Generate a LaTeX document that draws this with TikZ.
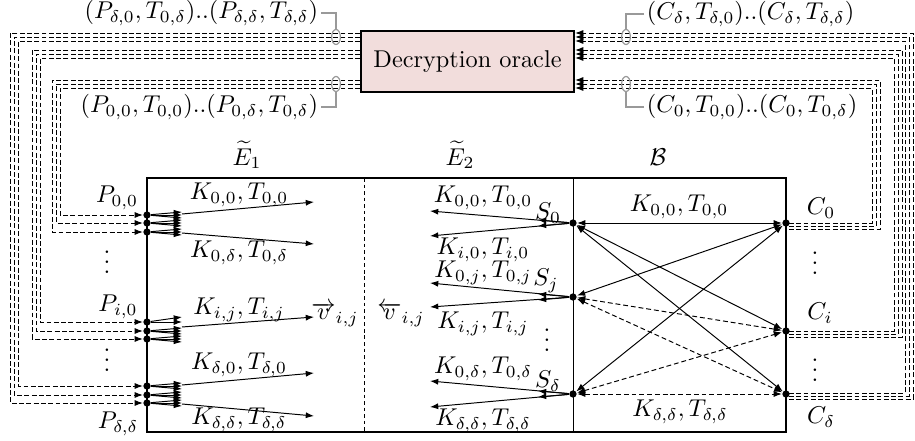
\documentclass[tikz,border=0pt]{standalone}
\usetikzlibrary{arrows.meta,shapes.geometric,calc}
\definecolor{oraclefill}{RGB}{242,221,220}
\newcommand{\tightvdots}{\vbox{\baselineskip4pt\lineskiplimit0pt\hbox{.}\hbox{.}\hbox{.}}}
\begin{document}
\begin{tikzpicture}[x=0.4115pt,y=-0.4115pt,
  >={Latex[length=3.4pt,width=2.5pt]},
  dot/.style={circle,fill,inner sep=0pt,minimum size=3pt},
  bundle/.style={dash pattern=on 2pt off 1pt,line width=0.4pt},
  cross/.style={dash pattern=on 2pt off 1.2pt},
  lbl/.style={inner sep=1pt},
  vd/.style={inner sep=0pt},
  tag/.style={black!40,line width=0.5pt},
  ring/.style={ellipse,draw=black!40,line width=0.5pt,inner sep=0pt,minimum width=3.6pt,minimum height=6.2pt},
  heavy/.style={line width=0.9pt}]
\useasboundingbox (0,0) rectangle (915,441);

% oracle
\node[draw,heavy,fill=oraclefill,minimum width=87.6pt,minimum height=25.1pt,inner sep=0pt]
  (oracle) at (467.5,61.5) {Decryption oracle};

% main frame and its three parts
\draw[heavy] (147,178) rectangle (786,432);
\draw[dash pattern=on 1.5pt off 1.2pt] (364,178) -- (364,432);
\draw (573,178) -- (573,432);
\node at (247,155) {$\widetilde{E}_1$};
\node at (460,155) {$\widetilde{E}_2$};
\node at (658,157) {$\mathcal{B}$};

% plaintext points
\node[dot] (pa1) at (147,215) {};
\node[dot] (pa2) at (147,223) {};
\node[dot] (pa3) at (147,232) {};
\node[dot] (pb1) at (147,322) {};
\node[dot] (pb2) at (147,331) {};
\node[dot] (pb3) at (147,339) {};
\node[dot] (pc1) at (147,386) {};
\node[dot] (pc2) at (147,395) {};
\node[dot] (pc3) at (147,403) {};
\node at (117,198) {$P_{0,0}$};
\node[vd] (pv1) at (107,262) {\tightvdots};
\node at (118,307) {$P_{i,0}$};
\node[vd] (pv2) at (107,360) {\tightvdots};
\node at (118,424) {$P_{\delta,\delta}$};

% middle points
\node[dot] (S0) at (573,223) {};
\node[dot] (Sj) at (573,297) {};
\node[dot] (Sd) at (573,394) {};
\node at (548,213) {$S_0$};
\node at (546,281) {$S_j$};
\node[vd] (sv) at (547,340) {\tightvdots};
\node at (548,381) {$S_\delta$};

% ciphertext points
\node[dot] (C0) at (786,223) {};
\node[dot] (Ci) at (786,331) {};
\node[dot] (Cd) at (786,394) {};
\node at (821,208) {$C_0$};
\node[vd] (cv1) at (815,263) {\tightvdots};
\node at (820,313) {$C_i$};
\node[vd] (cv2) at (815,370) {\tightvdots};
\node at (821,417) {$C_\delta$};

% forward fans in E1
\foreach \n in {pa1,pa2,pa3,pb2,pb3,pc1,pc2,pc3}
  \foreach \o in {-3,0,3}
    \draw[->] (\n) -- ($(\n)+(35,\o)$);
\foreach \o in {-5,0}
  \draw[->] (pb1) -- ($(pb1)+(35,\o)$);

\draw[->] (182,214) -- (314,202);
\draw[->] (182,233) -- (314,244);
\draw[->] (182,327) -- (314,317);
\draw[->] (182,385) -- (314,373);
\draw[->] (182,404) -- (314,416);
\node at (239,195) {$K_{0,0},T_{0,0}$};
\node at (239,253) {$K_{0,\delta},T_{0,\delta}$};
\node at (239,310) {$K_{i,j},T_{i,j}$};
\node at (239,365) {$K_{\delta,0},T_{\delta,0}$};
\node at (239,420) {$K_{\delta,\delta},T_{\delta,\delta}$};
\node at (335,315) {$\overrightarrow{v}_{i,j}$};
\node at (401,315) {$\overleftarrow{v}_{i,j}$};

% backward fans in E2
\foreach \n in {S0,Sj,Sd}
  \foreach \o in {-3,3}
    \draw[->] (\n) -- ($(\n)+(-35,\o)$);
\draw[->] (S0) -- (430,211);
\draw[->] (S0) -- (430,236);
\draw[->] (Sj) -- (430,283);
\draw[->] (Sj) -- (430,307);
\draw[->] (Sd) -- (430,381);
\draw[->] (Sd) -- (430,407);
\node at (483,198) {$K_{0,0},T_{0,0}$};
\node at (483,250) {$K_{i,0},T_{i,0}$};
\node at (483,273) {$K_{0,j},T_{0,j}$};
\node at (483,324) {$K_{i,j},T_{i,j}$};
\node at (483,369) {$K_{0,\delta},T_{0,\delta}$};
\node at (483,421) {$K_{\delta,\delta},T_{\delta,\delta}$};

% links in B
\draw[<->] (S0) -- (C0);
\draw[<->] (S0) -- (Ci);
\draw[<->] (S0) -- (Cd);
\draw[<->] (Sj) -- (C0);
\draw[<->] (Sd) -- (C0);
\draw[<->,cross] (Sj) -- (Ci);
\draw[<->,cross] (Sj) -- (Cd);
\draw[<->,cross] (Sd) -- (Ci);
\draw[<->,cross] (Sd) -- (Cd);
\node at (679,207) {$K_{0,0},T_{0,0}$};
\node at (680,412) {$K_{\delta,\delta},T_{\delta,\delta}$};

% oracle answers towards the plaintext points
\draw[bundle,->] (oracle.west |- 0,33) -| (10,403) -- (pc3);
\draw[bundle,->] (oracle.west |- 0,37) -| (14,395) -- (pc2);
\draw[bundle,->] (oracle.west |- 0,41) -| (18,386) -- (pc1);
\draw[bundle,->] (oracle.west |- 0,50) -| (32,339) -- (pb3);
\draw[bundle,->] (oracle.west |- 0,54) -| (36,331) -- (pb2);
\draw[bundle,->] (oracle.west |- 0,58) -| (40,322) -- (pb1);
\draw[bundle,->] (oracle.west |- 0,80) -| (52,232) -- (pa3);
\draw[bundle,->] (oracle.west |- 0,84) -| (56,223) -- (pa2);
\draw[bundle,->] (oracle.west |- 0,88) -| (60,215) -- (pa1);

% ciphertext queries towards the oracle
\draw[bundle,->] ($(Cd)+(3,5)$) -| (913,33) -- (oracle.east |- 0,33);
\draw[bundle,->] ($(Cd)+(3,2)$) -| (909,37) -- (oracle.east |- 0,37);
\draw[bundle,->] ($(Cd)+(3,-1)$) -| (905,41) -- (oracle.east |- 0,41);
\draw[bundle,->] ($(Ci)+(3,6)$) -| (902,50) -- (oracle.east |- 0,50);
\draw[bundle,->] ($(Ci)+(3,3)$) -| (898,54) -- (oracle.east |- 0,54);
\draw[bundle,->] ($(Ci)+(3,0)$) -| (894,58) -- (oracle.east |- 0,58);
\draw[bundle,->] ($(C0)+(3,6)$) -| (880,80) -- (oracle.east |- 0,80);
\draw[bundle,->] ($(C0)+(3,3)$) -| (876,84) -- (oracle.east |- 0,84);
\draw[bundle,->] ($(C0)+(3,0)$) -| (872,88) -- (oracle.east |- 0,88);

% bundle tags
\node[ring] (el1) at (336,37) {};
\node[ring] (el2) at (336,84) {};
\node[ring] (er1) at (626,37) {};
\node[ring] (er2) at (626,84) {};
\node[lbl,anchor=east] (tl) at (321,13) {$(P_{\delta,0},T_{0,\delta})..(P_{\delta,\delta},T_{\delta,\delta})$};
\node[lbl,anchor=east] (bl) at (321,107) {$(P_{0,0},T_{0,0})..(P_{0,\delta},T_{0,\delta})$};
\node[lbl,anchor=west] (tr) at (644,14) {$(C_\delta,T_{\delta,0})..(C_\delta,T_{\delta,\delta})$};
\node[lbl,anchor=west] (br) at (644,107) {$(C_0,T_{0,0})..(C_0,T_{0,\delta})$};
\draw[tag] (tl.east) -| (el1.north);
\draw[tag] (bl.east) -| (el2.south);
\draw[tag] (tr.west) -| (er1.north);
\draw[tag] (br.west) -| (er2.south);
\end{tikzpicture}
\end{document}
